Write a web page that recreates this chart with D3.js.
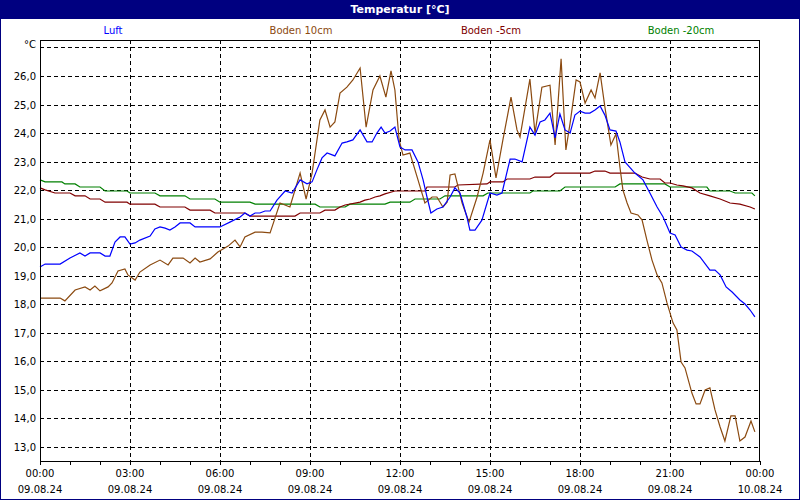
<!DOCTYPE html>
<html><head><meta charset="utf-8">
<script src="https://cdn.jsdelivr.net/npm/d3@7"></script>
<style>body{margin:0;background:#fff}svg{display:block;font-family:Tahoma,"DejaVu Sans",sans-serif}</style>
</head><body><svg id="c" width="800" height="500"></svg>
<script>
const title = "Temperatur [°C]";
const seriesNames = ["Luft","Boden 10cm","Boden -5cm","Boden -20cm"];
const seriesColors = ["#0000ff","#8b4a10","#800000","#008000"];
const yTicks = [13,14,15,16,17,18,19,20,21,22,23,24,25,26,27];
const xTickHours = [0,3,6,9,12,15,18,21,24];
const xTickTimes = ["00:00","03:00","06:00","09:00","12:00","15:00","18:00","21:00","00:00"];
const xTickDates = ["09.08.24","09.08.24","09.08.24","09.08.24","09.08.24","09.08.24","09.08.24","09.08.24","10.08.24"];

// [hour, °C]
const luft = [[0,19.31],[0.17,19.41],[0.67,19.41],[1,19.62],[1.33,19.80],[1.5,19.69],[1.67,19.80],[2,19.80],[2.17,19.69],[2.33,19.69],[2.5,20.18],[2.67,20.36],[2.83,20.36],[3,20.11],[3.17,20.15],[3.33,20.25],[3.67,20.39],[3.83,20.64],[4,20.71],[4.17,20.67],[4.33,20.60],[4.5,20.71],[4.67,20.85],[5,20.85],[5.17,20.71],[6,20.71],[6.33,20.88],[6.67,21.06],[6.83,21.20],[7,21.09],[7.17,21.20],[7.33,21.20],[7.5,21.27],[7.67,21.27],[7.9,21.65],[8.17,21.97],[8.4,21.90],[8.67,22.36],[8.9,22.22],[9.07,22.29],[9.23,22.71],[9.4,23.13],[9.57,23.30],[9.83,23.20],[10.07,23.65],[10.23,23.69],[10.43,23.76],[10.67,24.11],[10.9,23.69],[11.07,23.69],[11.23,24.0],[11.37,24.21],[11.5,24.0],[11.67,24.07],[11.83,24.21],[12,23.51],[12.17,23.41],[12.4,23.41],[12.6,22.99],[12.77,22.36],[12.9,21.76],[13.03,21.20],[13.23,21.34],[13.43,21.41],[13.67,21.76],[13.83,22.08],[14,21.90],[14.23,21.06],[14.33,20.60],[14.5,20.60],[14.73,20.95],[15,21.90],[15.23,21.83],[15.4,21.90],[15.67,23.09],[15.83,23.09],[16.07,22.99],[16.33,24.21],[16.5,23.93],[16.67,24.39],[16.83,24.46],[17,24.70],[17.17,23.83],[17.33,24.67],[17.5,24.11],[17.67,24.0],[17.83,24.63],[18,24.77],[18.17,24.70],[18.33,24.70],[18.5,24.81],[18.67,24.95],[18.83,24.63],[19,24.11],[19.2,24.07],[19.33,23.69],[19.5,22.99],[19.83,22.60],[20.1,22.36],[20.33,21.90],[20.57,21.41],[20.77,21.06],[21,20.50],[21.17,20.43],[21.37,20.01],[21.57,19.90],[21.73,19.87],[22,19.66],[22.33,19.20],[22.5,19.20],[22.67,19.03],[22.87,18.61],[23.07,18.43],[23.33,18.15],[23.5,18.01],[23.67,17.80],[23.83,17.56]];

const boden10 = [[0,18.22],[0.67,18.22],[0.83,18.12],[1.17,18.50],[1.5,18.61],[1.67,18.50],[1.83,18.64],[2,18.47],[2.27,18.61],[2.4,18.75],[2.6,19.17],[2.83,19.24],[2.93,19.03],[3.17,18.85],[3.33,19.13],[3.67,19.38],[4,19.55],[4.27,19.38],[4.43,19.62],[4.77,19.62],[5,19.45],[5.17,19.62],[5.33,19.48],[5.67,19.59],[5.93,19.83],[6.27,20.04],[6.5,20.25],[6.67,20.01],[6.83,20.36],[7.17,20.53],[7.4,20.53],[7.67,20.50],[8,21.55],[8.33,21.41],[8.67,22.60],[8.87,21.69],[9.07,22.60],[9.33,24.46],[9.5,24.81],[9.67,24.21],[9.83,24.39],[10,25.40],[10.23,25.61],[10.43,25.86],[10.67,26.28],[10.87,24.21],[11.1,25.51],[11.33,26.0],[11.53,25.26],[11.7,26.18],[11.83,25.51],[11.97,23.76],[12.1,23.23],[12.33,23.30],[12.6,22.36],[12.83,21.55],[13.07,21.76],[13.23,21.76],[13.43,21.41],[13.57,21.58],[13.67,22.53],[13.83,22.57],[14.07,21.55],[14.3,20.88],[14.57,21.76],[14.77,22.60],[15,23.76],[15.2,22.43],[15.43,23.76],[15.7,25.26],[15.9,24.11],[16,23.86],[16.33,25.89],[16.5,24.0],[16.73,25.61],[17,25.68],[17.17,23.58],[17.37,26.60],[17.53,23.41],[17.67,24.35],[17.87,25.86],[18,25.79],[18.17,25.05],[18.37,25.51],[18.5,25.23],[18.67,26.11],[18.83,24.91],[19.03,23.58],[19.2,23.97],[19.33,22.81],[19.43,22.01],[19.57,21.55],[19.7,21.20],[19.93,21.13],[20.07,20.95],[20.23,20.25],[20.4,19.55],[20.57,19.03],[20.73,18.75],[20.9,18.05],[21.1,17.35],[21.23,17.10],[21.37,15.98],[21.5,15.77],[21.73,14.89],[21.87,14.51],[22,14.51],[22.17,15.0],[22.33,15.07],[22.5,14.30],[22.67,13.70],[22.83,13.21],[23.03,14.09],[23.17,14.09],[23.33,13.21],[23.5,13.35],[23.7,13.91],[23.83,13.53]];

const boden5 = [[0,22.08],[0.17,22.01],[0.5,21.90],[1,21.90],[1.17,21.80],[1.5,21.80],[1.67,21.69],[2,21.69],[2.17,21.58],[2.9,21.58],[3,21.51],[3.83,21.51],[4,21.41],[4.83,21.41],[5,21.30],[5.67,21.30],[5.83,21.20],[6.83,21.20],[7,21.09],[8.5,21.09],[8.67,21.20],[9.33,21.20],[9.5,21.30],[9.83,21.30],[10,21.41],[10.17,21.48],[10.67,21.58],[10.83,21.65],[11,21.69],[11.17,21.76],[11.33,21.80],[11.5,21.87],[11.83,21.97],[12.83,21.97],[12.9,22.11],[13.83,22.11],[13.93,22.18],[14.9,22.22],[15,22.29],[15.43,22.29],[15.57,22.39],[16.33,22.39],[16.5,22.46],[17,22.46],[17.17,22.60],[18.33,22.60],[18.5,22.67],[18.83,22.67],[19,22.60],[19.83,22.60],[20.07,22.46],[20.33,22.39],[20.67,22.39],[20.83,22.25],[21,22.25],[21.23,22.18],[21.43,22.15],[21.73,22.08],[22,21.90],[22.33,21.80],[22.67,21.69],[23,21.55],[23.33,21.51],[23.67,21.41],[23.83,21.34]];

const boden20 = [[0,22.36],[0.17,22.29],[0.73,22.29],[0.83,22.22],[1.17,22.22],[1.33,22.11],[2,22.11],[2.17,21.97],[2.9,21.97],[3,21.90],[3.83,21.90],[4,21.80],[4.83,21.80],[5,21.69],[5.83,21.69],[6,21.58],[7,21.58],[7.17,21.51],[9.17,21.51],[9.33,21.41],[10.17,21.41],[10.33,21.51],[11.5,21.51],[11.67,21.58],[12.33,21.58],[12.5,21.69],[13.33,21.69],[13.5,21.80],[14.77,21.80],[14.93,21.90],[16.33,21.90],[16.43,21.97],[17.33,21.97],[17.5,22.11],[19.17,22.11],[19.33,22.22],[20.83,22.22],[21,22.11],[22.23,22.11],[22.33,21.97],[23,21.97],[23.17,21.90],[23.73,21.90],[23.83,21.80]];
const seriesData = [luft, boden10, boden5, boden20];

const svg = d3.select("#c");
const W=800,H=500, L=40,R=760,T=40,B=461;
const x = d3.scaleLinear().domain([0,24]).range([L,R]);
const y = d3.scaleLinear().domain([13,26]).range([447,76]);

svg.append("rect").attr("x",0.5).attr("y",0.5).attr("width",W-1).attr("height",H-1).attr("fill","#fff").attr("stroke","#000080");
svg.append("rect").attr("x",0).attr("y",0).attr("width",W).attr("height",19).attr("fill","#000080");
svg.append("text").attr("x",W/2).attr("y",13).attr("text-anchor","middle").attr("fill","#fff").attr("font-weight","bold").attr("font-size",11).text(title);

const legX=[113,301,491,681];
seriesNames.forEach((n,i)=>svg.append("text").attr("x",legX[i]).attr("y",34).attr("text-anchor","middle").attr("font-size",10).attr("fill",seriesColors[i]).text(n));

// grid
const g = svg.append("g");
yTicks.forEach(v=>g.append("line").attr("x1",L).attr("x2",R).attr("y1",Math.round(y(v))+0.5).attr("y2",Math.round(y(v))+0.5).attr("stroke","#000").attr("stroke-dasharray","4,3"));
xTickHours.slice(1,-1).forEach(h=>g.append("line").attr("x1",Math.round(x(h))+0.5).attr("x2",Math.round(x(h))+0.5).attr("y1",T).attr("y2",B).attr("stroke","#000").attr("stroke-dasharray","4,3"));

// y labels
yTicks.filter(v=>v<27).forEach(v=>svg.append("text").attr("x",36).attr("y",y(v)+4).attr("text-anchor","end").attr("font-size",10).text(d3.format(".1f")(v).replace(".",",")));
svg.append("text").attr("x",36).attr("y",48).attr("text-anchor","end").attr("font-size",10).text("°C");

// x axis
const ax = svg.append("g").attr("transform",`translate(0,${B})`).call(d3.axisBottom(x).ticks(24).tickSize(4).tickFormat(""));
ax.select(".domain").remove();
ax.selectAll("line").attr("stroke","#000");
xTickHours.forEach((h,i)=>{
  svg.append("text").attr("x",x(h)).attr("y",477).attr("text-anchor","middle").attr("font-size",10).text(xTickTimes[i]);
  svg.append("text").attr("x",x(h)).attr("y",493).attr("text-anchor","middle").attr("font-size",10).text(xTickDates[i]);
});

const line = d3.line().x(d=>x(d[0])).y(d=>y(d[1]));
[3,2,1,0].forEach(i=>svg.append("path").attr("d",line(seriesData[i])).attr("fill","none").attr("stroke",seriesColors[i]).attr("stroke-width",1.2));

svg.append("rect").attr("x",L+0.5).attr("y",T+0.5).attr("width",R-L-1).attr("height",B-T).attr("fill","none").attr("stroke","#000");
</script></body></html>
